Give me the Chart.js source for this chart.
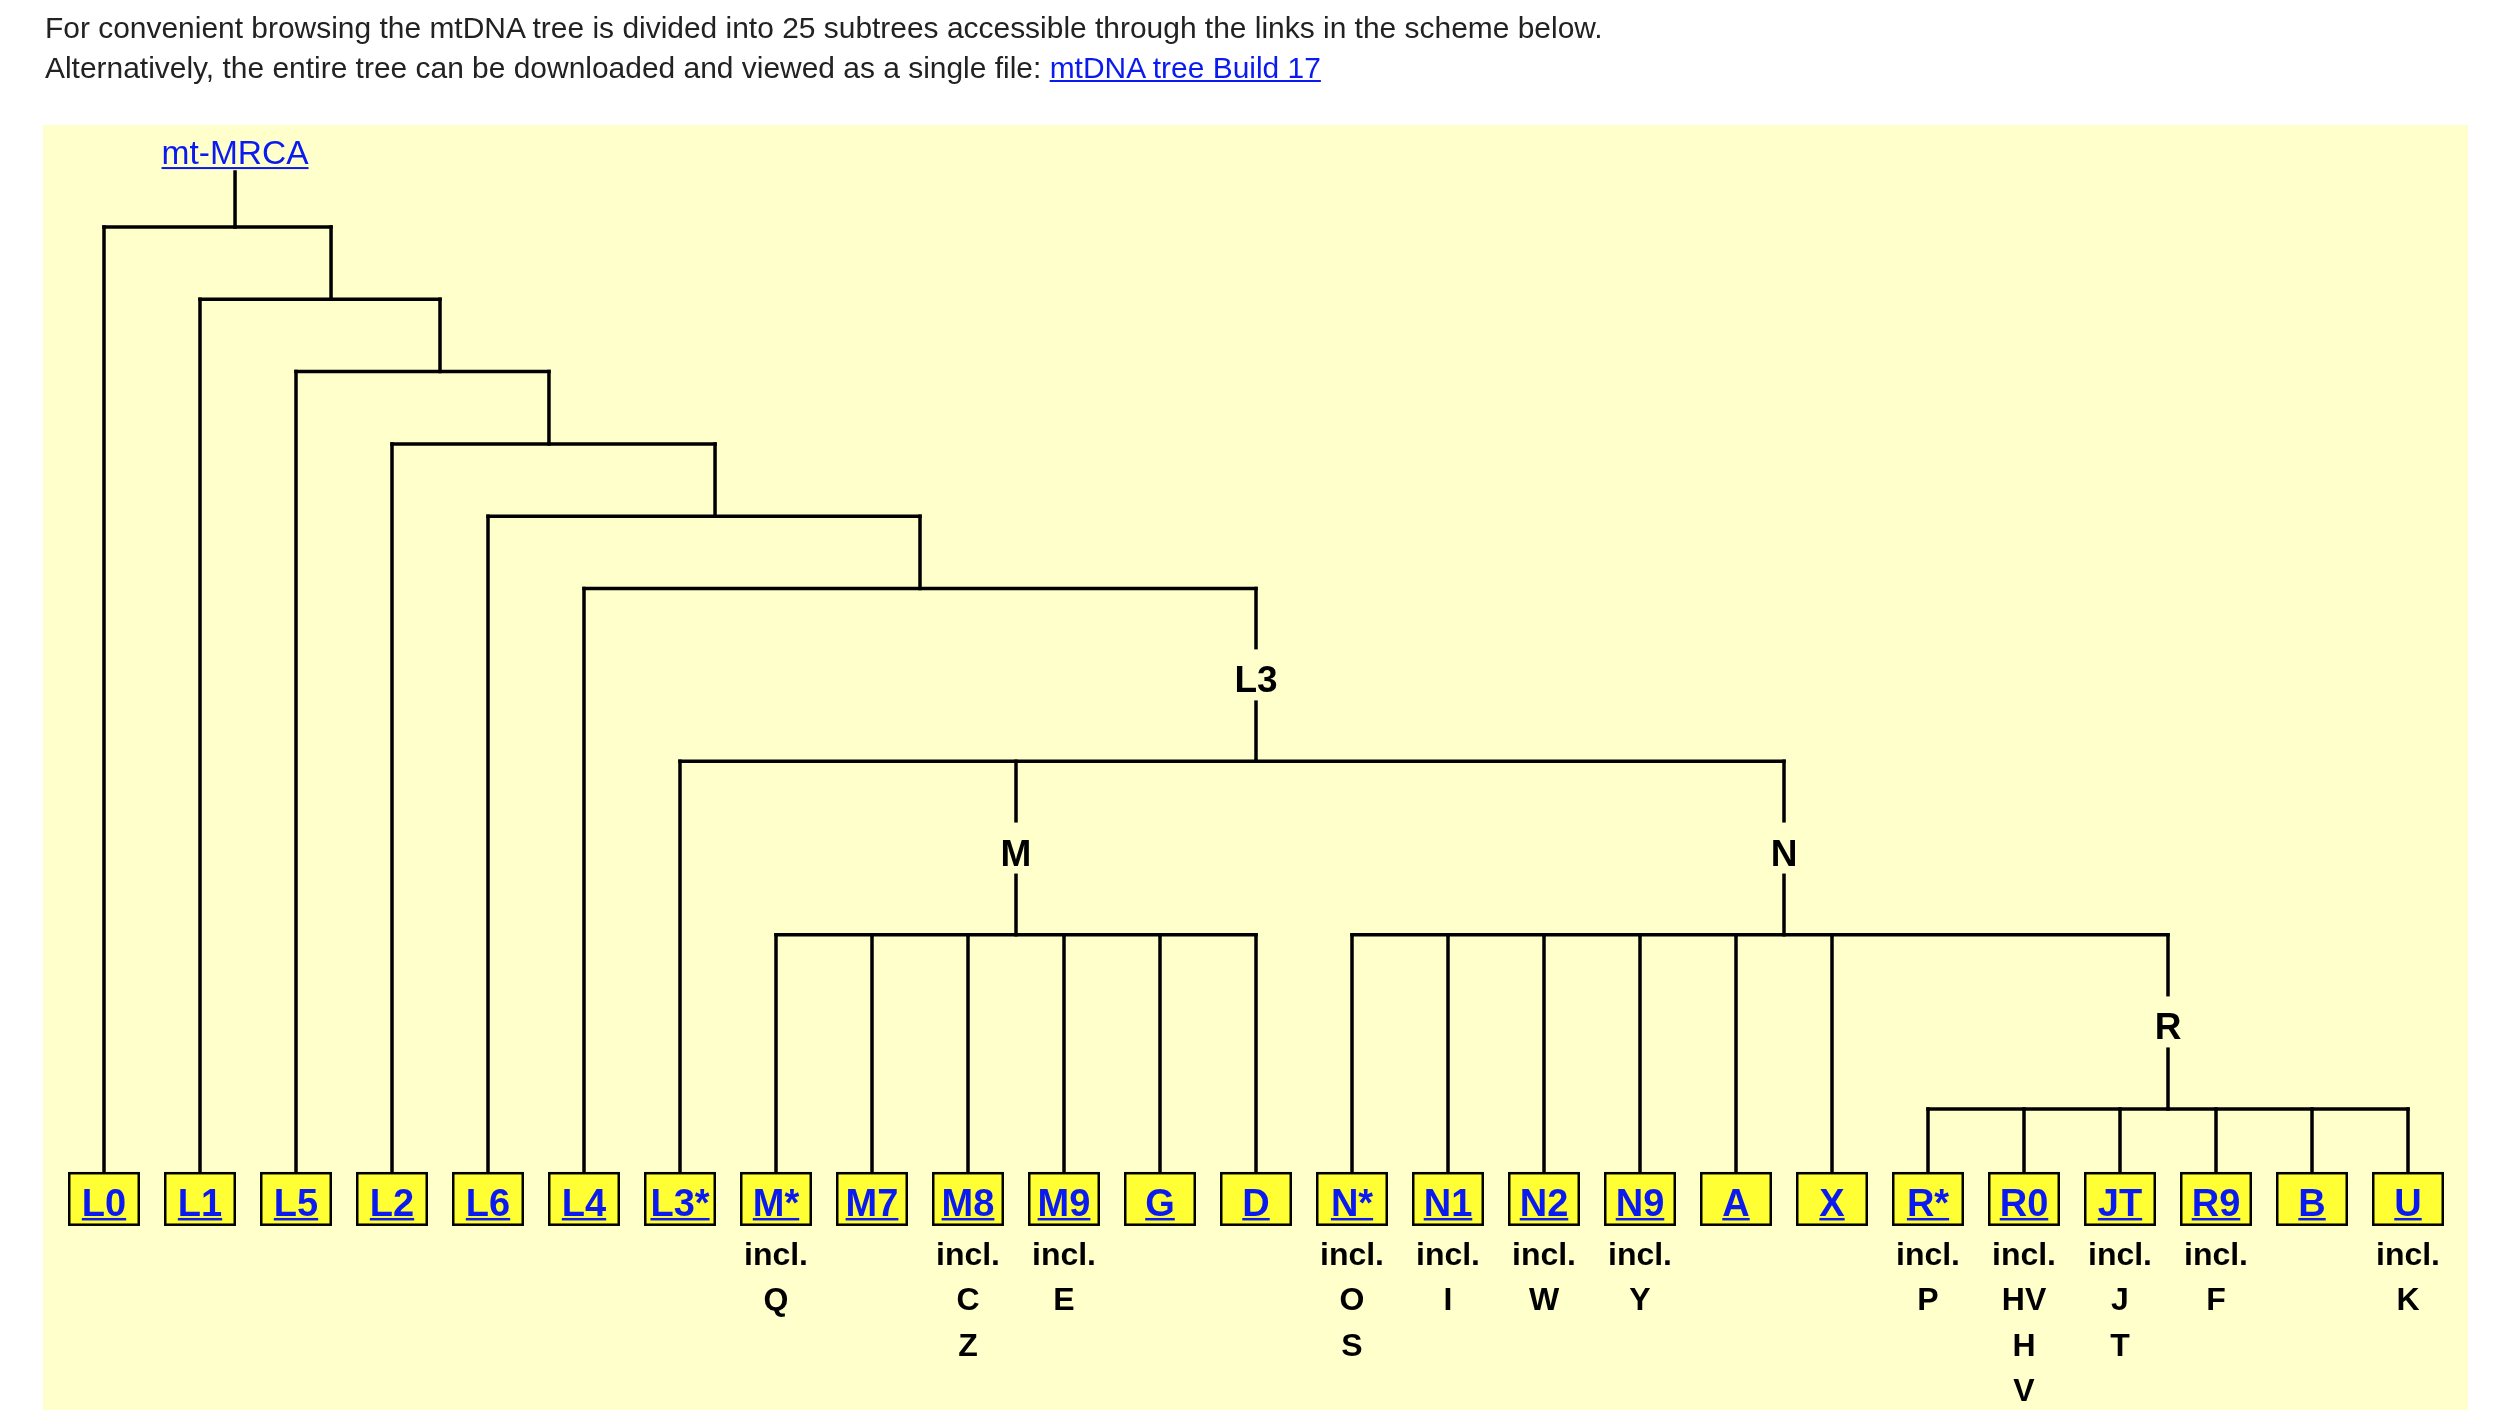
<!DOCTYPE html>
<html><head><meta charset="utf-8">
<script src="https://cdn.jsdelivr.net/npm/chart.js@4.4.0/dist/chart.umd.min.js"></script>
<style>
html,body{margin:0;padding:0;background:#fff;width:2520px;height:1410px;overflow:hidden;}
#c{position:absolute;left:0;top:0;}
#hdr{position:absolute;left:45px;top:8px;font-family:"Liberation Sans",Arial,Helvetica,sans-serif;font-size:28px;line-height:40px;color:#222;white-space:nowrap;z-index:2;}
#hdr a{color:#0b1bf0;text-decoration:underline;}
</style></head><body>
<div id="hdr"><div id="l1">For convenient browsing the mtDNA tree is divided into 25 subtrees accessible through the links in the scheme below.</div><div id="l2">Alternatively, the entire tree can be downloaded and viewed as a single file: <a href="#">mtDNA tree Build 17</a></div></div>
<canvas id="c" width="2520" height="1410"></canvas>
<script>
// ---- data ----
const leafNames = ['L0','L1','L5','L2','L6','L4','L3*','M*','M7','M8','M9','G','D','N*','N1','N2','N9','A','X','R*','R0','JT','R9','B','U'];
const leafNotes = [[],[],[],[],[],[],[],['incl.','Q'],[],['incl.','C','Z'],['incl.','E'],[],[],
  ['incl.','O','S'],['incl.','I'],['incl.','W'],['incl.','Y'],[],[],
  ['incl.','P'],['incl.','HV','H','V'],['incl.','J','T'],['incl.','F'],[],['incl.','K']];
const nodeNames = ['mt-MRCA','A1','A2','A3','A4','A5','L3','M','N','R'];
const nodePos = [1.365, 2.365, 3.5, 4.635, 6.365, 8.5, 12, 9.5, 17.5, 21.5];
const nodeDepth = [0, 1, 2, 3, 4, 5, 7.39, 9.79, 9.79, 12.2];
const nodeChildren = [['L0','A1'],['L1','A2'],['L5','A3'],['L2','A4'],['L6','A5'],['L4','L3'],
  ['L3*','M','N'],['M*','M7','M8','M9','G','D'],['N*','N1','N2','N9','A','X','R'],['R*','R0','JT','R9','B','U']];
const labelledNodes = ['L3','M','N','R'];
const rootTopDepth = -0.76;
const leafDepth = 13.07;

// ---- header font fit ----
(function(){
  const m=document.createElement('canvas').getContext('2d');
  m.font='28px "Liberation Sans"';
  const w=m.measureText(document.getElementById('l1').textContent).width;
  let fs=28*1560/w; if(fs<25||fs>31) fs=28;
  document.getElementById('hdr').style.fontSize=fs.toFixed(2)+'px';
})();

const isLeaf = n => leafNames.indexOf(n)>=0;
const posOf = n => isLeaf(n) ? leafNames.indexOf(n) : nodePos[nodeNames.indexOf(n)];
const depthOf = n => isLeaf(n) ? leafDepth : nodeDepth[nodeNames.indexOf(n)];
const parentOf = n => { for(let i=0;i<nodeNames.length;i++){ if(nodeChildren[i].indexOf(n)>=0) return nodeNames[i]; } return null; };

const datasets=[];
function seg(x1,y1,x2,y2){
  datasets.push({data:[{x:x1,y:y1},{x:x2,y:y2}],showLine:true,borderColor:'#000',borderWidth:3.5,
    pointRadius:0,pointHoverRadius:0,borderCapStyle:'square',fill:false});
}
seg(nodePos[0],rootTopDepth,nodePos[0],nodeDepth[0]);
nodeNames.forEach((n,i)=>{
  const xs=nodeChildren[i].map(posOf);
  seg(Math.min(...xs),nodeDepth[i],Math.max(...xs),nodeDepth[i]);
  nodeChildren[i].forEach(c=>seg(posOf(c),nodeDepth[i],posOf(c),depthOf(c)));
});

const FONT='"Liberation Sans", Arial, Helvetica, sans-serif';
const BG='#ffffcc', LINK='#0b1bf0';
function underlined(ctx,txt,cx,base,uo,uh){
  const w=ctx.measureText(txt).width;
  ctx.fillText(txt,cx,base);
  ctx.fillRect(cx-w/2,base+uo,w,uh);
}
const treePlugin={
  id:'tree',
  beforeDraw(chart){
    const ctx=chart.ctx; ctx.save();
    ctx.fillStyle='#fff'; ctx.fillRect(0,0,chart.width,chart.height);
    ctx.fillStyle=BG; ctx.fillRect(43,125,2425,1285);
    ctx.restore();
  },
  afterDatasetsDraw(chart){
    const ctx=chart.ctx, xs=chart.scales.x, ys=chart.scales.y;
    ctx.save();
    ctx.textAlign='center'; ctx.textBaseline='alphabetic';
    // root label
    const rx=xs.getPixelForValue(nodePos[0]), ry=ys.getPixelForValue(rootTopDepth);
    ctx.fillStyle=LINK; ctx.font='33.5px '+FONT;
    underlined(ctx,nodeNames[0],rx,ry-8,3,2);
    // internal labels
    labelledNodes.forEach(n=>{
      const x=xs.getPixelForValue(posOf(n));
      const y1=ys.getPixelForValue(depthOf(parentOf(n))), y2=ys.getPixelForValue(depthOf(n));
      const mid=(y1+y2)/2;
      ctx.fillStyle=BG; ctx.fillRect(x-8,mid-25.5,16,51);
      ctx.fillStyle='#000'; ctx.font='bold 37px '+FONT;
      ctx.fillText(n,x,mid+17.5);
    });
    // leaves
    leafNames.forEach((n,i)=>{
      const cx=xs.getPixelForValue(i), top=ys.getPixelForValue(leafDepth);
      ctx.fillStyle='#ffff33'; ctx.fillRect(cx-36,top,72,54);
      ctx.strokeStyle='#000'; ctx.lineWidth=2.5; ctx.strokeRect(cx-34.75,top+1.25,69.5,51.5);
      ctx.fillStyle=LINK; ctx.font='bold 38px '+FONT;
      underlined(ctx,n,cx,top+44,2,2.5);
      ctx.fillStyle='#000'; ctx.font='bold 32px '+FONT;
      leafNotes[i].forEach((t,k)=>ctx.fillText(t,cx,top+93+45.5*k));
    });
    ctx.restore();
  }
};

const X0=-104/96, X1=(2520-104)/96;
const Y0=-227/72.3, Y1=Y0+1410/72.3;
new Chart(document.getElementById('c'),{
  type:'scatter',
  data:{datasets},
  options:{
    responsive:false, animation:false, devicePixelRatio:1, events:[],
    layout:{padding:0},
    plugins:{legend:{display:false},tooltip:{enabled:false}},
    scales:{
      x:{type:'linear',min:X0,max:X1,display:false},
      y:{type:'linear',min:Y0,max:Y1,reverse:true,display:false}
    }
  },
  plugins:[treePlugin]
});
</script>
</body></html>
